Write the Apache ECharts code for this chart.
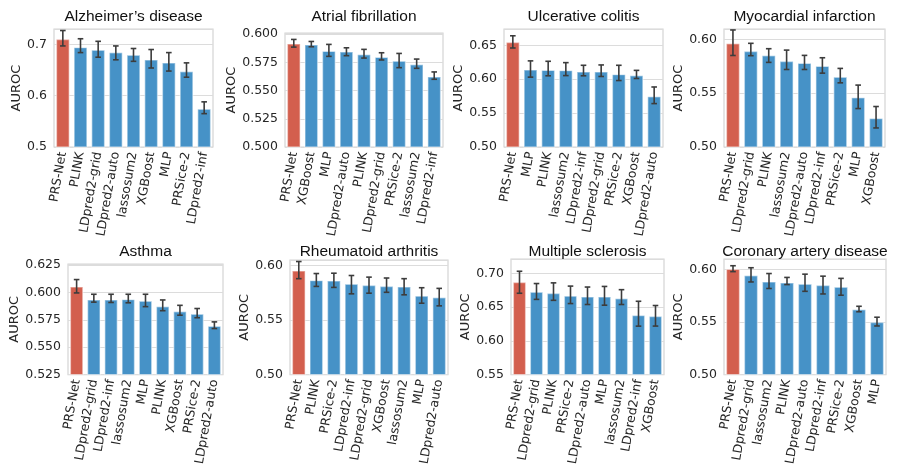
<!DOCTYPE html>
<html>
<head>
<meta charset="utf-8">
<title>AUROC by disease</title>
<script src="https://cdn.jsdelivr.net/npm/echarts@6/dist/echarts.min.js"></script>
<style>
  html, body { margin: 0; padding: 0; background: #ffffff; }
  #chart { width: 897px; height: 468px; }
</style>
</head>
<body>
<div id="chart"></div>
<script>
// Mean AUROC per method with lower / upper error-bar ends, one block per disease.
const alzTitle = "Alzheimer’s disease";
const alzCats = ["PRS-Net", "PLINK", "LDpred2-grid", "LDpred2-auto", "lassosum2", "XGBoost", "MLP", "PRSice-2", "LDpred2-inf"];
const alzAuc  = [0.711, 0.695, 0.690, 0.685, 0.680, 0.671, 0.665, 0.648, 0.575];
const alzLow  = [0.697, 0.684, 0.675, 0.670, 0.667, 0.654, 0.648, 0.636, 0.565];
const alzHigh = [0.727, 0.711, 0.706, 0.697, 0.692, 0.690, 0.684, 0.664, 0.588];

const afTitle = "Atrial fibrillation";
const afCats = ["PRS-Net", "XGBoost", "MLP", "LDpred2-auto", "PLINK", "LDpred2-grid", "PRSice-2", "lassosum2", "LDpred2-inf"];
const afAuc  = [0.5918, 0.5909, 0.5853, 0.5847, 0.5824, 0.5800, 0.5765, 0.5735, 0.5626];
const afLow  = [0.5885, 0.5888, 0.5803, 0.5809, 0.5788, 0.5771, 0.5703, 0.5697, 0.5600];
const afHigh = [0.5953, 0.5935, 0.5909, 0.5879, 0.5865, 0.5835, 0.5829, 0.5779, 0.5665];

const ucTitle = "Ulcerative colitis";
const ucCats = ["PRS-Net", "MLP", "PLINK", "lassosum2", "LDpred2-inf", "LDpred2-grid", "PRSice-2", "XGBoost", "LDpred2-auto"];
const ucAuc  = [0.655, 0.6146, 0.614, 0.6136, 0.6117, 0.6117, 0.6077, 0.6062, 0.575];
const ucLow  = [0.646, 0.603, 0.605, 0.6053, 0.605, 0.604, 0.598, 0.601, 0.564];
const ucHigh = [0.664, 0.627, 0.6264, 0.6244, 0.6205, 0.621, 0.6205, 0.613, 0.5885];

const miTitle = "Myocardial infarction";
const miCats = ["PRS-Net", "LDpred2-grid", "PLINK", "lassosum2", "LDpred2-auto", "LDpred2-inf", "PRSice-2", "MLP", "XGBoost"];
const miAuc  = [0.5966, 0.5894, 0.5854, 0.5800, 0.5783, 0.5755, 0.5655, 0.5463, 0.5270];
const miLow  = [0.5850, 0.5848, 0.5786, 0.5720, 0.5720, 0.5686, 0.5596, 0.5357, 0.5177];
const miHigh = [0.6087, 0.5963, 0.5913, 0.5900, 0.5851, 0.5829, 0.5730, 0.5575, 0.5376];

const asTitle = "Asthma";
const asCats = ["PRS-Net", "LDpred2-grid", "LDpred2-inf", "lassosum2", "MLP", "PLINK", "XGBoost", "PRSice-2", "LDpred2-auto"];
const asAuc  = [0.6056, 0.5937, 0.5937, 0.5940, 0.5925, 0.5876, 0.5830, 0.5807, 0.5696];
const asLow  = [0.5995, 0.5911, 0.5908, 0.5905, 0.5870, 0.5833, 0.5792, 0.5769, 0.5670];
const asHigh = [0.6117, 0.5983, 0.5983, 0.5983, 0.5983, 0.5931, 0.5882, 0.5853, 0.5731];

const raTitle = "Rheumatoid arthritis";
const raCats = ["PRS-Net", "PLINK", "PRSice-2", "LDpred2-inf", "LDpred2-grid", "XGBoost", "lassosum2", "MLP", "LDpred2-auto"];
const raAuc  = [0.5956, 0.5867, 0.5864, 0.5834, 0.5822, 0.5814, 0.5808, 0.5725, 0.5710];
const raLow  = [0.5879, 0.5808, 0.5799, 0.5740, 0.5746, 0.5754, 0.5731, 0.5654, 0.5630];
const raHigh = [0.6036, 0.5926, 0.5929, 0.5908, 0.5893, 0.5885, 0.5879, 0.5796, 0.5790];

const msTitle = "Multiple sclerosis";
const msCats = ["PRS-Net", "LDpred2-grid", "PLINK", "PRSice-2", "LDpred2-auto", "MLP", "lassosum2", "LDpred2-inf", "XGBoost"];
const msAuc  = [0.6875, 0.6731, 0.6712, 0.6674, 0.6660, 0.6660, 0.6636, 0.6386, 0.6372];
const msLow  = [0.6707, 0.6616, 0.6602, 0.6554, 0.6540, 0.6530, 0.6540, 0.6219, 0.6220];
const msHigh = [0.7033, 0.6851, 0.6861, 0.6813, 0.6799, 0.6808, 0.6760, 0.6588, 0.6525];

const cadTitle = "Coronary artery disease";
const cadCats = ["PRS-Net", "LDpred2-grid", "lassosum2", "PLINK", "LDpred2-auto", "LDpred2-inf", "PRSice-2", "XGBoost", "MLP"];
const cadAuc  = [0.6006, 0.5945, 0.5886, 0.5877, 0.5865, 0.5852, 0.5837, 0.5622, 0.5502];
const cadLow  = [0.5978, 0.5880, 0.5818, 0.5855, 0.5791, 0.5766, 0.5754, 0.5597, 0.5462];
const cadHigh = [0.6034, 0.6015, 0.5960, 0.5923, 0.5954, 0.5935, 0.5914, 0.5649, 0.5545];

// Y-axis ranges and tick steps per panel
const alzAxis = { min: 0.5,   max: 0.730,  step: 0.1,   dec: 1 };
const afAxis  = { min: 0.5,   max: 0.601,  step: 0.025, dec: 3 };
const ucAxis  = { min: 0.5,   max: 0.674,  step: 0.05,  dec: 2 };
const miAxis  = { min: 0.5,   max: 0.6096, step: 0.05,  dec: 2 };
const asAxis  = { min: 0.525, max: 0.6259, step: 0.025, dec: 3 };
const raAxis  = { min: 0.5,   max: 0.605,  step: 0.05,  dec: 2 };
const msAxis  = { min: 0.55,  max: 0.7215, step: 0.05,  dec: 2 };
const cadAxis = { min: 0.5,   max: 0.6098, step: 0.05,  dec: 2 };

const panels = [
  { title: alzTitle, cats: alzCats, auc: alzAuc, low: alzLow, high: alzHigh, axis: alzAxis, box: [54, 29, 159, 118] },
  { title: afTitle,  cats: afCats,  auc: afAuc,  low: afLow,  high: afHigh,  axis: afAxis,  box: [285, 33, 158, 114] },
  { title: ucTitle,  cats: ucCats,  auc: ucAuc,  low: ucLow,  high: ucHigh,  axis: ucAxis,  box: [504, 29, 159, 118] },
  { title: miTitle,  cats: miCats,  auc: miAuc,  low: miLow,  high: miHigh,  axis: miAxis,  box: [724, 29, 161, 118] },
  { title: asTitle,  cats: asCats,  auc: asAuc,  low: asLow,  high: asHigh,  axis: asAxis,  box: [68, 264, 155, 116] },
  { title: raTitle,  cats: raCats,  auc: raAuc,  low: raLow,  high: raHigh,  axis: raAxis,  box: [290, 260, 158, 118] },
  { title: msTitle,  cats: msCats,  auc: msAuc,  low: msLow,  high: msHigh,  axis: msAxis,  box: [511, 259, 153, 119] },
  { title: cadTitle, cats: cadCats, auc: cadAuc, low: cadLow, high: cadHigh, axis: cadAxis, box: [724, 259, 162, 119] }
];

const RED = '#d35f4e';
const BLUE = '#4692c7';
const TEXT = '#262626';
const TICK_FONT = 'DejaVu Sans';
const TITLE_FONT = 'Liberation Sans';

const chart = echarts.init(document.getElementById('chart'), null, { renderer: 'canvas' });

const grid = [], xAxis = [], yAxis = [], series = [], title = [];

panels.forEach((p, i) => {
  const [left, top, width, height] = p.box;
  const row = top < 200 ? 0 : 1;
  grid.push({
    left, top, width, height,
    show: true, borderColor: '#d4d4d4', borderWidth: 1.2,
    backgroundColor: 'transparent', containLabel: false
  });
  title.push({
    text: p.title,
    left: left + width / 2,
    top: row === 0 ? 9 : 244,
    textAlign: 'center',
    padding: 0,
    textStyle: { fontFamily: TITLE_FONT, fontSize: 15.5, fontWeight: 'normal', color: '#111111' }
  });
  xAxis.push({
    type: 'category', gridIndex: i, data: p.cats, boundaryGap: true,
    axisLine: { show: false }, axisTick: { show: false }, splitLine: { show: false },
    axisLabel: {
      interval: 0, rotate: 80, margin: 5,
      fontFamily: TICK_FONT, fontSize: 12.5, color: TEXT
    }
  });
  const a = p.axis;
  yAxis.push({
    type: 'value', gridIndex: i, min: a.min, max: a.max, interval: a.step,
    name: 'AUROC', nameLocation: 'middle',
    nameGap: a.dec === 1 ? 29 : (a.dec === 2 ? 37 : 45),
    nameTextStyle: { fontFamily: TICK_FONT, fontSize: 13, color: TEXT },
    axisLine: { show: false }, axisTick: { show: false },
    splitLine: { show: true, lineStyle: { color: '#dcdcdc', width: 1 } },
    axisLabel: {
      margin: 7, fontFamily: TICK_FONT, fontSize: 12.5, color: TEXT,
      showMaxLabel: false,
      formatter: v => {
        const k = (v - a.min) / a.step;
        return Math.abs(k - Math.round(k)) < 1e-6 ? v.toFixed(a.dec) : '';
      }
    }
  });
  series.push({
    type: 'bar', xAxisIndex: i, yAxisIndex: i, barWidth: '80%',
    data: p.auc.map((v, j) => ({
      value: v,
      itemStyle: { color: j === 0 ? RED : BLUE }
    })),
    itemStyle: { borderColor: 'rgba(255,255,255,0.45)', borderWidth: 1.4 },
    silent: true, z: 2
  });
  series.push({
    type: 'custom', xAxisIndex: i, yAxisIndex: i,
    data: p.cats.map((c, j) => [j, p.low[j], p.high[j]]),
    encode: { x: 0, y: [1, 2] },
    renderItem: (params, api) => {
      const x = api.value(0);
      const lo = api.coord([x, api.value(1)]);
      const hi = api.coord([x, api.value(2)]);
      const cap = 2.8;
      const style = { stroke: '#3c3c3c', lineWidth: 1.6 };
      return {
        type: 'group',
        children: [
          { type: 'line', shape: { x1: lo[0], y1: lo[1], x2: hi[0], y2: hi[1] }, style },
          { type: 'line', shape: { x1: hi[0] - cap, y1: hi[1], x2: hi[0] + cap, y2: hi[1] }, style },
          { type: 'line', shape: { x1: lo[0] - cap, y1: lo[1], x2: lo[0] + cap, y2: lo[1] }, style }
        ]
      };
    },
    silent: true, z: 5
  });
});

chart.setOption({
  animation: false,
  backgroundColor: '#ffffff',
  title, grid, xAxis, yAxis, series
});
</script>
</body>
</html>
